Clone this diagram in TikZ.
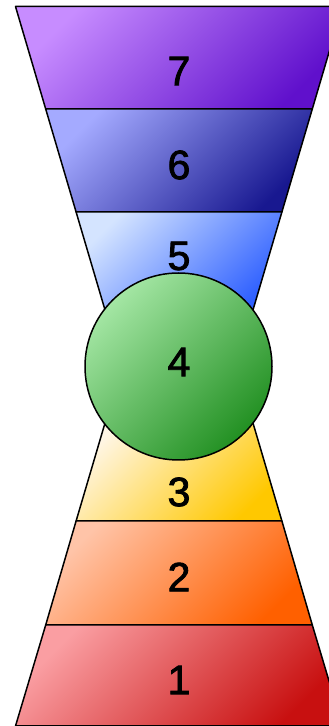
\documentclass[tikz,border=0pt]{standalone}
\usepackage{fontspec}
\setmainfont{Liberation Sans}
\newfontfamily\numfont{Liberation Sans}[FakeBold=2]
\definecolor{s7a}{HTML}{C78CFF}\definecolor{s7b}{HTML}{6010CC}
\definecolor{s6a}{HTML}{A4AAFF}\definecolor{s6b}{HTML}{181890}
\definecolor{s5a}{HTML}{D4E4FF}\definecolor{s5b}{HTML}{2F60FF}
\definecolor{s4a}{HTML}{A4E6A4}\definecolor{s4b}{HTML}{229022}
\definecolor{s3a}{HTML}{FFF6E6}\definecolor{s3b}{HTML}{FFC800}
\definecolor{s2a}{HTML}{FFC4A8}\definecolor{s2b}{HTML}{FF6000}
\definecolor{s1a}{HTML}{FA9EA2}\definecolor{s1b}{HTML}{C81010}
\begin{document}
\begin{tikzpicture}[x=1pt,y=1pt,
  lay/.style 2 args={draw=black, line width=1.5pt, line join=round,
    top color=#1, bottom color=#2, shading angle=45},
  num/.style={font=\fontsize{41}{41}\numfont, inner sep=0pt}]
\clip (0,0) rectangle (329,726);
% 7
\path[lay={s7a}{s7b}] (15.5,719.5) -- (342.5,719.5) -- (312.3,617) -- (45.7,617) -- cycle;
% 6
\path[lay={s6a}{s6b}] (45.7,617) -- (312.3,617) -- (281.9,514) -- (76.1,514) -- cycle;
% 5
\path[lay={s5a}{s5b}] (76.1,514) -- (281.9,514) -- (251.5,411) -- (106.5,411) -- cycle;
% 3
\path[lay={s3a}{s3b}] (106.5,308) -- (251.5,308) -- (281.9,205) -- (76.1,205) -- cycle;
% 2
\path[lay={s2a}{s2b}] (76.1,205) -- (281.9,205) -- (312.3,101) -- (45.7,101) -- cycle;
% 1
\path[lay={s1a}{s1b}] (45.7,101) -- (312.3,101) -- (342.5,0) -- (15.5,0) -- cycle;
% 4 circle
\path[lay={s4a}{s4b}] (178.5,359.5) circle (93.5);
\node[num] (l7) at (179,655) {7};
\node[num] (l6) at (179,561) {6};
\node[num] (l5) at (179,470) {5};
\node[num] (l4) at (179,364) {4};
\node[num] (l3) at (179,234) {3};
\node[num] (l2) at (179,149) {2};
\node[num] (l1) at (179,46) {1};
\end{tikzpicture}
\end{document}
